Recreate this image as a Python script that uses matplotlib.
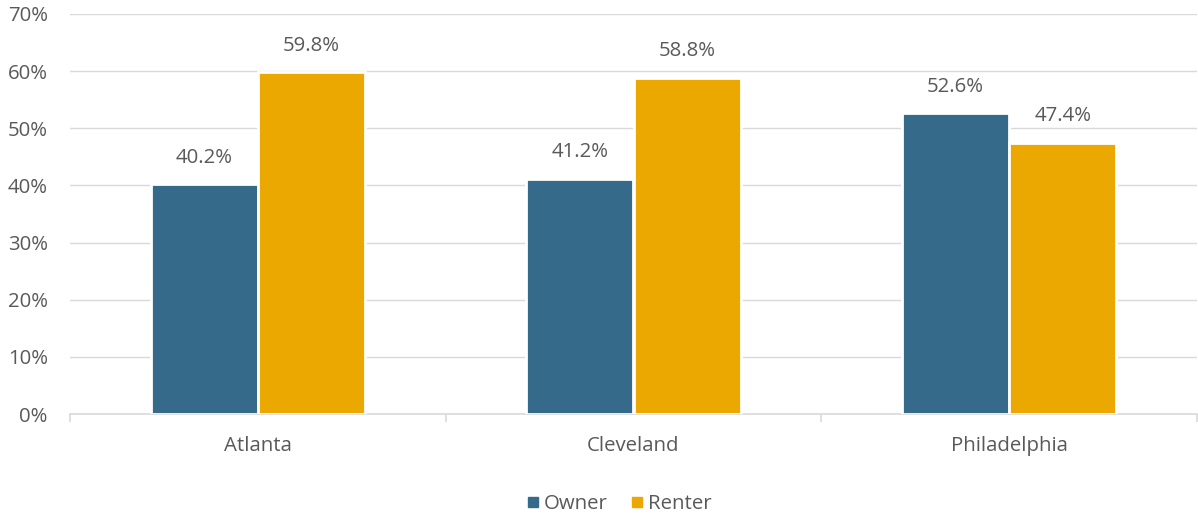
import matplotlib
matplotlib.use("Agg")
import matplotlib.pyplot as plt
import numpy as np
from matplotlib.lines import Line2D

plt.rcParams['font.family'] = ['Open Sans', 'DejaVu Sans']

categories = ["Atlanta", "Cleveland", "Philadelphia"]
owner = [40.2, 41.2, 52.6]
renter = [59.8, 58.8, 47.4]
series_names = ["Owner", "Renter"]
colors = ["#366A8A", "#EAA800"]
text_color = "#595959"
fs = 14.7

fig = plt.figure(figsize=(11.98, 5.2), dpi=100)
ax = fig.add_axes([70/1198, 106/520, 1127/1198, 400/520])

x = np.arange(len(categories))
w = 0.285
b1 = ax.bar(x - w/2, owner, w, color=colors[0], edgecolor="white", linewidth=2, zorder=3)
b2 = ax.bar(x + w/2, renter, w, color=colors[1], edgecolor="white", linewidth=2, zorder=3)

for bars, vals in ((b1, owner), (b2, renter)):
    for r, v in zip(bars, vals):
        ax.annotate(f"{v:.1f}%", (r.get_x() + r.get_width()/2, v),
                    xytext=(0, 12), textcoords="offset points",
                    ha="center", va="bottom", fontsize=fs, color=text_color)

ax.set_xlim(-0.5, len(categories) - 0.5)
ax.set_ylim(0, 70)
ax.set_yticks(np.arange(0, 71, 10))
ax.set_yticklabels([f"{t}%" for t in range(0, 71, 10)])
ax.yaxis.grid(True, color="#D9D9D9", linewidth=1.0, zorder=0)
ax.set_axisbelow(True)

ax.set_xticks(x)
ax.set_xticklabels(categories)
ax.tick_params(axis='x', length=0, pad=16, labelsize=fs, labelcolor=text_color)
ax.tick_params(axis='y', length=0, pad=16, labelsize=fs, labelcolor=text_color)
ax.set_xticks(np.arange(-0.5, len(categories), 1), minor=True)
ax.tick_params(axis='x', which='minor', length=6, color="#D9D9D9", width=1.2)

for s in ("top", "right", "left"):
    ax.spines[s].set_visible(False)
ax.spines["bottom"].set_color("#D9D9D9")
ax.spines["bottom"].set_linewidth(1.2)

handles = [Line2D([], [], marker='s', linestyle='none', markersize=7, color=c) for c in colors]
leg = fig.legend(handles, series_names, loc="center", bbox_to_anchor=(617/1198, 1 - 504/520),
                 ncol=2, frameon=False, fontsize=fs, handletextpad=0.05, columnspacing=0.9,
                 handlelength=1.0)
for t in leg.get_texts():
    t.set_color(text_color)

fig.savefig("out.png", dpi=100)
